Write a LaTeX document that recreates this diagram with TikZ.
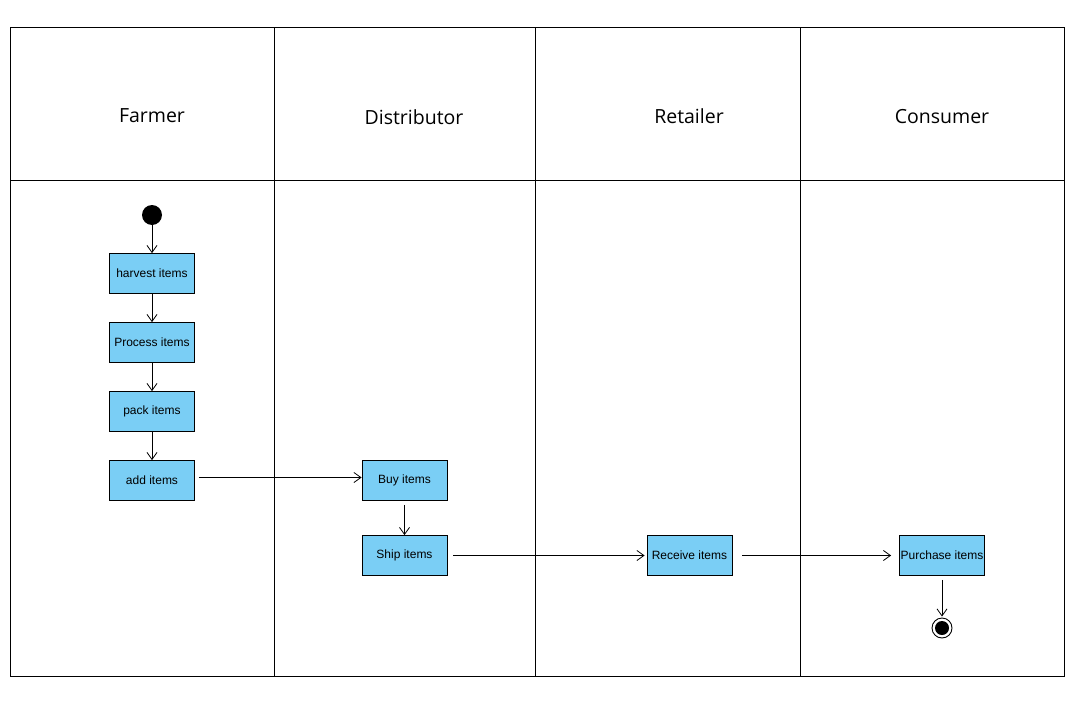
\documentclass[tikz,border=0pt]{standalone}
\usepackage{fontspec}
\setmainfont{Liberation Sans}
\newfontfamily\headfont{Open Sans}
\usepackage{tikz}
\usetikzlibrary{arrows.meta}

\definecolor{actblue}{RGB}{122,206,245}

\tikzset{
    action/.style={draw=black, fill=actblue, line width=0.8pt, minimum width=85pt, minimum height=40pt, inner sep=0pt, font=\fontsize{12}{14}\selectfont},
    lanehead/.style={font=\headfont\fontsize{19.5}{23}\selectfont},
    flow/.style={draw=black, line width=0.8pt, -{Straight Barb[length=7pt, width=10pt]}}
}

\begin{document}
\begin{tikzpicture}[x=1pt, y=-1pt, line width=0.8pt]
    \useasboundingbox (0, 0) rectangle (1082, 704);

    % draw swimlanes
    \draw[color=black] (10, 27) rectangle (1064, 676);
    \draw[color=black] (10, 180) -- (1064, 180);
    \draw[color=black] (274, 27) -- (274, 676);
    \draw[color=black] (535, 27) -- (535, 676);
    \draw[color=black] (800, 27) -- (800, 676);

    % lane headers
    \node[lanehead] (farmer) at (152, 116) {Farmer};
    \node[lanehead] (distributor) at (414, 117) {Distributor};
    \node[lanehead] (retailer) at (689, 116) {Retailer};
    \node[lanehead] (consumer) at (942, 117) {Consumer};

    % start and end
    \node[circle, fill=black, minimum size=20pt, inner sep=0pt] (start) at (152, 215) {};
    \node[circle, draw=black, line width=0.9pt, minimum size=20pt, inner sep=0pt] (stop) at (942, 628) {};
    \node[circle, fill=black, minimum size=14pt, inner sep=0pt] (stopdot) at (942, 628) {};

    % actions
    \node[action] (harvest) at (152, 273.5) {harvest items};
    \node[action] (process) at (152, 342.5) {Process items};
    \node[action] (pack) at (152, 411.5) {pack items};
    \node[action] (add) at (152, 480.5) {add items};
    \node[action] (buy) at (404.5, 480.5) {Buy items};
    \node[action] (ship) at (404.5, 555.5) {Ship items};
    \node[action] (receive) at (689.5, 555.5) {Receive items};
    \node[action] (purchase) at (942, 555.5) {Purchase items};

    % draw flows
    \draw[flow] (start) -- (harvest);
    \draw[flow] (harvest) -- (process);
    \draw[flow] (process) -- (pack);
    \draw[flow] (pack) -- (add);
    \draw[flow, shorten <=4pt] ([yshift=3pt]add.east) -- ([yshift=3pt]buy.west);
    \draw[flow, shorten <=4pt] (buy) -- (ship);
    \draw[flow, shorten <=6pt, shorten >=2pt] (ship) -- (receive);
    \draw[flow, shorten <=10pt, shorten >=8pt] (receive) -- (purchase);
    \draw[flow, shorten <=4pt, shorten >=1pt] (purchase) -- (stop);

\end{tikzpicture}
\end{document}
